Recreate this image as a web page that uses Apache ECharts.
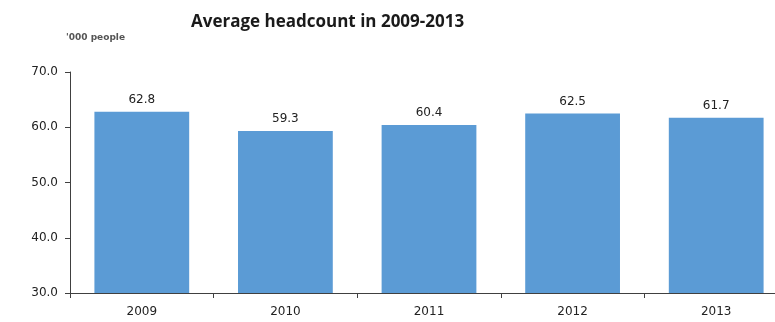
<!DOCTYPE html>
<html><head><meta charset="utf-8">
<script src="https://cdn.jsdelivr.net/npm/echarts@6/dist/echarts.min.js"></script>
<style>html,body{margin:0;padding:0;background:#fff;overflow:hidden;width:775px;height:322px}#c{width:788px;height:322px}</style>
</head><body><div id="c"></div>
<script>
const categories = ['2009', '2010', '2011', '2012', '2013'];
const headcount = [62.8, 59.3, 60.4, 62.5, 61.7];
const yTicks = { min: 30, max: 70, interval: 10 };
const titleText = 'Average headcount in 2009-2013';
const unitText = "'000 people";

const chart = echarts.init(document.getElementById('c'));
chart.setOption({
  animation: false,
  textStyle: { fontFamily: 'DejaVu Sans' },
  title: [
    { text: titleText, left: 186, top: 9,
      textStyle: { fontSize: 17, fontWeight: 'bold', color: '#1a1a1a', fontFamily: 'Open Sans' } },
    { text: unitText, left: 61, top: 28,
      textStyle: { fontSize: 9, fontWeight: 'bold', color: '#555', fontFamily: 'DejaVu Sans' } }
  ],
  grid: { left: 70, right: 0, top: 72, bottom: 29, containLabel: false },
  xAxis: {
    type: 'category', data: categories,
    axisLine: { lineStyle: { color: '#404040', width: 1 } },
    axisTick: { show: true, length: 5, alignWithLabel: false, lineStyle: { color: '#404040' } },
    axisLabel: { color: '#222', fontSize: 12, margin: 13 }
  },
  yAxis: {
    type: 'value', min: yTicks.min, max: yTicks.max, interval: yTicks.interval,
    axisLine: { show: true, lineStyle: { color: '#404040', width: 1 } },
    axisTick: { show: true, length: 5, lineStyle: { color: '#404040' } },
    splitLine: { show: false },
    axisLabel: { color: '#222', fontSize: 12, margin: 12, formatter: v => v.toFixed(1) }
  },
  series: [{
    type: 'bar', data: headcount, barCategoryGap: '34%',
    itemStyle: { color: '#5B9BD5' },
    label: { show: true, position: 'top', distance: 6, color: '#222', fontSize: 12,
      formatter: p => p.value.toFixed(1) }
  }]
});
</script></body></html>
